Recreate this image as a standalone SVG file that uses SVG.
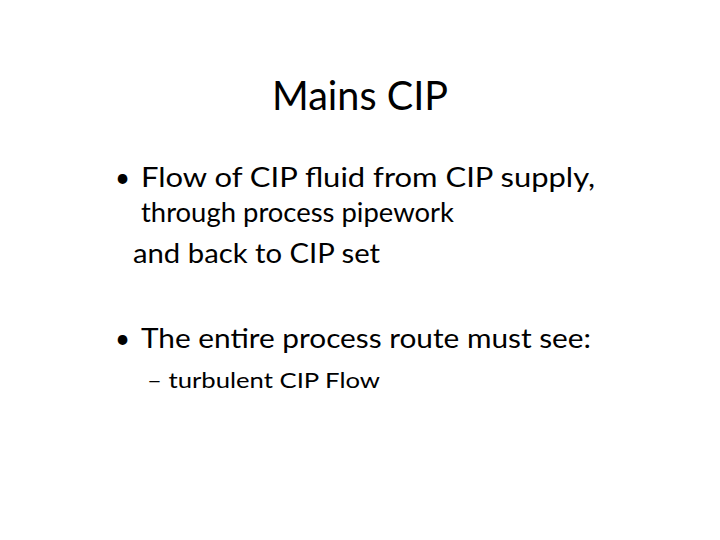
<svg xmlns="http://www.w3.org/2000/svg" width="720" height="540" viewBox="0 0 720 540">
<style>
text{font-family:Lato,"Open Sans","Liberation Sans",sans-serif;fill:#000}
.t{font-size:40px}
.b{font-size:26px}
.s{font-size:22px}
</style>
<rect width="720" height="540" fill="#fff"/>
<g id="title"><text class="t" x="360" y="110" text-anchor="middle" textLength="176" lengthAdjust="spacingAndGlyphs">Mains CIP</text></g>
<g id="bullet1">
<text class="b" x="115" y="187">•</text>
<text class="b" x="141" y="187" textLength="454" lengthAdjust="spacingAndGlyphs">Flow of CIP fluid from CIP supply,</text>
<text class="b" x="141" y="222" textLength="313" lengthAdjust="spacingAndGlyphs">through process pipework</text>
<text class="b" x="133" y="263" textLength="247" lengthAdjust="spacingAndGlyphs">and back to CIP set</text>
</g>
<g id="bullet2">
<text class="b" x="115" y="348">•</text>
<text class="b" x="141" y="348" textLength="450" lengthAdjust="spacingAndGlyphs">The entire process route must see:</text>
<text class="s" x="147" y="388" textLength="233" lengthAdjust="spacingAndGlyphs">– turbulent CIP Flow</text>
</g>
</svg>
